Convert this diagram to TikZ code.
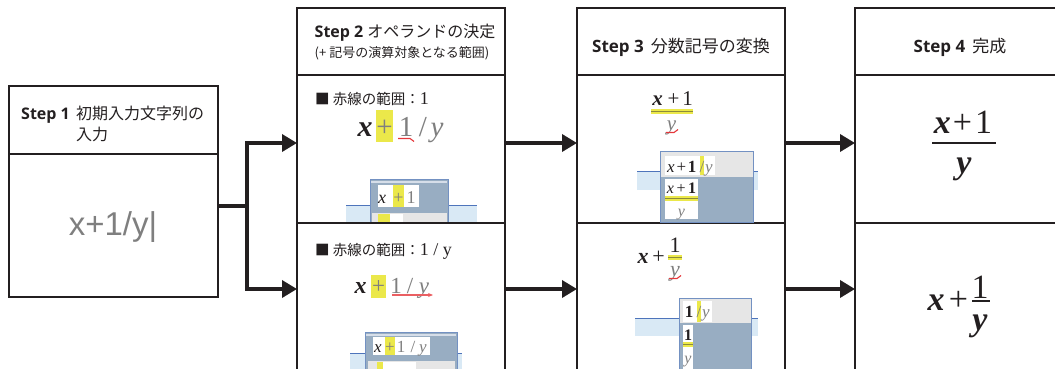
\documentclass[tikz,border=0pt]{standalone}
\usepackage{fontspec}
\setmainfont{Liberation Serif}
\newfontfamily\jp{Noto Sans CJK JP}
\newfontfamily\stepf{Open Sans}
\newfontfamily\sansf{Liberation Sans}
\usetikzlibrary{arrows.meta}
\newcommand\setfs[1]{\fontsize{#1}{#1}\selectfont}
\definecolor{ink}{HTML}{231F20}
\definecolor{hl}{HTML}{EBE84A}
\definecolor{gtxt}{HTML}{7F7F7F}
\definecolor{popb}{HTML}{7391C2}
\definecolor{popf}{HTML}{98ADC2}
\definecolor{popl}{HTML}{D6DEE9}
\definecolor{band}{HTML}{D9E9F5}
\definecolor{bline}{HTML}{4E74BB}
\definecolor{rowg}{HTML}{E6E6E6}
\definecolor{redm}{HTML}{E5373B}
\definecolor{barl}{HTML}{8C8A3C}
\begin{document}
\begin{tikzpicture}[x=1pt,y=-1pt,
  panel/.style={draw=ink, line width=1.3pt, inner sep=0pt, outer sep=0pt, anchor=north west},
  arr/.style={draw=ink, line width=3.5pt, -{Triangle[length=15pt,width=17pt]}},
  lbl/.style={inner sep=0pt, anchor=base, text=ink},
  gr/.style={lbl, text=gtxt},
  popbox/.style={fill=popf, draw=popb, line width=0.9pt},
  redmark/.style={draw=redm, line width=1.1pt},
  fbar/.style={draw=barl, line width=0.9pt}]
\useasboundingbox (0,0) rectangle (1055,369);
% ---------- panels ----------
\node[panel, minimum width=209pt, minimum height=68pt] (s1h) at (9,86) {};
\node[panel, minimum width=209pt, minimum height=143pt] (s1b) at (9,154) {};
\node[panel, minimum width=208pt, minimum height=67pt] (s2h) at (297,8) {};
\node[panel, minimum width=208pt, minimum height=148pt] (s2a) at (297,75) {};
\node[panel, minimum width=208pt, minimum height=150pt] (s2b) at (297,223) {};
\node[panel, minimum width=208pt, minimum height=67pt] (s3h) at (577,8) {};
\node[panel, minimum width=208pt, minimum height=148pt] (s3a) at (577,75) {};
\node[panel, minimum width=208pt, minimum height=150pt] (s3b) at (577,223) {};
\node[panel, minimum width=205pt, minimum height=67pt] (s4h) at (855,8) {};
\node[panel, minimum width=205pt, minimum height=148pt] (s4a) at (855,75) {};
\node[panel, minimum width=205pt, minimum height=150pt] (s4b) at (855,223) {};
% ---------- headers ----------
\node[lbl, anchor=base west, font=\setfs{16}] (t1a) at (21,119) {\stepf\bfseries Step 1};
\node[lbl, anchor=base west, font=\setfs{16}] (t1b) at (76,119) {\jp 初期入力文字列の};
\node[lbl, anchor=base west, font=\setfs{16}] (t1c) at (76,140) {\jp 入力};
\node[lbl, font=\setfs{16}] (t2a) at (405,38) {{\stepf\bfseries Step 2} {\jp オペランドの決定}};
\node[lbl, font=\setfs{13}] (t2b) at (402,58) {\jp (+ 記号の演算対象となる範囲)};
\node[lbl, font=\setfs{17}] (t3a) at (681,53) {{\stepf\bfseries Step 3}\hspace{7pt}{\jp 分数記号の変換}};
\node[lbl, font=\setfs{17}] (t4a) at (960,53) {{\stepf\bfseries Step 4}\hspace{7pt}{\jp 完成}};
% ---------- step 1 body ----------
\node[gr, font=\setfs{33}] (in1) at (113,235) {\sansf x+1/y|};
% ---------- connectors ----------
\coordinate (rowS) at (0,206);
\coordinate (rowA) at (0,143);
\coordinate (rowB) at (0,289);
\coordinate (fork) at (247,206);
\draw[ink, line width=3.5pt] (s1b.east |- rowS) -- (fork);
\draw[arr] (fork) |- (s2a.west |- rowA);
\draw[arr] (fork) |- (s2b.west |- rowB);
\draw[arr] (s2a.east |- rowA) -- (s3a.west |- rowA);
\draw[arr] (s2b.east |- rowB) -- (s3b.west |- rowB);
\draw[arr] (s3a.east |- rowA) -- (s4a.west |- rowA);
\draw[arr] (s3b.east |- rowB) -- (s4b.west |- rowB);
% ---------- step 2, top ----------
\node[lbl, anchor=base west, font=\setfs{14.5}] (l2a) at (315,104) {{\jp ■ 赤線の範囲：}{\setfs{18}1}};
\node[lbl, font=\setfs{30}] (f2x) at (365,136) {\bfseries\itshape x};
\fill[hl] (376,110) rectangle (393,142);
\node[gr, font=\setfs{29}] (f2p) at (384.5,136) {+};
\node[gr, font=\setfs{29}] (f2o) at (406,136) {1};
\node[gr, font=\setfs{29}] (f2s) at (423,136) {/};
\node[gr, font=\setfs{29}] (f2y) at (437,136) {\itshape y};
\draw[redmark] (398,138.5) -- (410,138.5) -- (414,141.5);
\fill[band] (346,205) rectangle (477,222.3);
\draw[bline, line width=1pt] (346,205) -- (477,205);
\fill[popf] (370,179) rectangle (448,222.3);
\draw[popb, line width=0.9pt] (370,222.3) -- (370,179) -- (448,179) -- (448,222.3);
\draw[popl, line width=1.5pt] (371,182) -- (447,182);
\fill[white] (378,185) rectangle (419,207);
\fill[hl] (393,185) rectangle (404,207);
\node[lbl, font=\setfs{18}] (p2x) at (382,203) {\itshape x};
\node[gr, font=\setfs{18}] (p2p) at (398.5,203) {+};
\node[gr, font=\setfs{18}] (p2o) at (411,203) {1};
\fill[rowg] (372,213) rectangle (447,222.3);
\fill[hl] (378,214) rectangle (390,222.3);
\fill[white] (390,214) rectangle (403,222.3);
% ---------- step 2, bottom ----------
\node[lbl, anchor=base west, font=\setfs{14.5}] (l2b) at (315,255) {{\jp ■ 赤線の範囲：}{\setfs{18}1 / y}};
\node[lbl, font=\setfs{24}] (g2x) at (360.5,293) {\bfseries\itshape x};
\fill[hl] (371,275) rectangle (386,298);
\node[gr, font=\setfs{23}] (g2p) at (378.5,293) {+};
\node[gr, font=\setfs{23}] (g2o) at (396,293) {1};
\node[gr, font=\setfs{23}] (g2s) at (410,293) {/};
\node[gr, font=\setfs{23}] (g2y) at (424,293) {\itshape y};
\draw[draw=redm!80!white, line width=1.3pt, -{Stealth[length=5pt,width=4pt]}] (392,295) -- (433,295);
\fill[band] (350,353) rectangle (462,372);
\draw[bline, line width=1pt] (350,353) -- (462,353);
\fill[popf] (365,332) rectangle (457,372);
\draw[popb, line width=0.9pt] (365,372) -- (365,332) -- (457,332) -- (457,372);
\draw[popl, line width=1.5pt] (366,335) -- (456,335);
\fill[white] (373,337) rectangle (430,355);
\fill[hl] (385,337) rectangle (395,355);
\node[lbl, font=\setfs{17}] (q2x) at (378,352) {\itshape x};
\node[gr, font=\setfs{17}] (q2p) at (390,352) {+};
\node[gr, font=\setfs{17}] (q2o) at (401,352) {1};
\node[gr, font=\setfs{17}] (q2s) at (413,352) {/};
\node[gr, font=\setfs{17}] (q2y) at (423,352) {\itshape y};
\fill[rowg] (368,361) rectangle (455,372);
\fill[hl] (377,362) rectangle (383,372);
\fill[white] (383,362) rectangle (416,372);
% ---------- step 3, top ----------
\node[lbl, font=\setfs{21}] (f3x) at (657.5,105) {\bfseries\itshape x};
\node[lbl, font=\setfs{21}] (f3p) at (673.5,105) {+};
\node[lbl, font=\setfs{21}] (f3o) at (687.5,105) {1};
\fill[hl] (651,109) rectangle (693,113.5);
\draw[fbar] (651,111.3) -- (693,111.3);
\node[gr, font=\setfs{21}] (f3y) at (671.5,130) {\itshape y};
\draw[redmark] (666,132.5) -- (674,132.5) -- (678,129.5);
\fill[band] (637,171) rectangle (758,190);
\draw[bline, line width=1pt] (637,171) -- (758,171);
\filldraw[popbox] (660,151) rectangle (753,222);
\fill[rowg] (660.5,151.5) rectangle (752.5,177);
\fill[white] (665,156) rectangle (715,175);
\fill[hl] (700,156) rectangle (704,175);
\node[lbl, font=\setfs{17}] (p3x) at (671,172) {\itshape x};
\node[lbl, font=\setfs{17}] (p3p) at (681.5,172) {+};
\node[lbl, font=\setfs{17}] (p3o) at (692,172) {\bfseries 1};
\node[gr, font=\setfs{17}] (p3s) at (702,172) {/};
\node[gr, font=\setfs{17}] (p3y) at (709,172) {\itshape y};
\fill[white] (665,179) rectangle (698,219);
\node[lbl, font=\setfs{16}] (q3n) at (681.5,193) {\itshape x\upshape\,+\,\bfseries 1};
\fill[hl] (665,196) rectangle (698,201);
\draw[fbar] (665,198.5) -- (698,198.5);
\node[gr, font=\setfs{16}] (q3y) at (681.5,216) {\itshape y};
% ---------- step 3, bottom ----------
\node[lbl, font=\setfs{22}] (g3x) at (643,263) {\bfseries\itshape x};
\node[lbl, font=\setfs{22}] (g3p) at (658.5,263) {+};
\node[lbl, font=\setfs{22}] (g3o) at (675,252) {1};
\fill[hl] (668,255) rectangle (682,259.5);
\draw[fbar] (668,257.2) -- (682,257.2);
\node[gr, font=\setfs{22}] (g3y) at (675,276) {\itshape y};
\draw[redmark] (669,278.5) -- (677,278.5) -- (681,275.5);
\fill[band] (635,318) rectangle (758,336);
\draw[bline, line width=1pt] (635,318) -- (758,318);
\fill[popf] (679,298) rectangle (751,372);
\draw[popb, line width=0.9pt] (679,372) -- (679,298) -- (751,298) -- (751,372);
\fill[rowg] (679.5,298.5) rectangle (750.5,323);
\fill[white] (683,301) rectangle (712,322);
\fill[hl] (697,301) rectangle (701,322);
\node[lbl, font=\setfs{17}] (p4o) at (689,317) {\bfseries 1};
\node[gr, font=\setfs{17}] (p4s) at (699,317) {/};
\node[gr, font=\setfs{17}] (p4y) at (706,317) {\itshape y};
\fill[white] (683,325) rectangle (693,372);
\node[lbl, font=\setfs{16}] (q4o) at (688,340) {\bfseries 1};
\fill[hl] (683,342) rectangle (693,347);
\draw[fbar] (683,344.5) -- (693,344.5);
\node[gr, font=\setfs{16}] (q4y) at (688,363) {\itshape y};
% ---------- step 4 ----------
\node[lbl, font=\setfs{34}] (n4a) at (963,133) {{\bfseries\itshape x}\hspace{2pt}+\hspace{3pt}1};
\draw[ink, line width=1.3pt] (932,143) -- (996,143);
\node[lbl, font=\setfs{34}] (d4a) at (964,173) {\bfseries\itshape y};
\node[lbl, font=\setfs{34}] (x4b) at (936,310) {\bfseries\itshape x};
\node[lbl, font=\setfs{34}] (p4b) at (958.5,310) {+};
\node[lbl, font=\setfs{34}] (n4b) at (980,298) {1};
\draw[ink, line width=1.3pt] (972,301) -- (990,301);
\node[lbl, font=\setfs{34}] (d4b) at (980,330) {\bfseries\itshape y};
\end{tikzpicture}
\end{document}
